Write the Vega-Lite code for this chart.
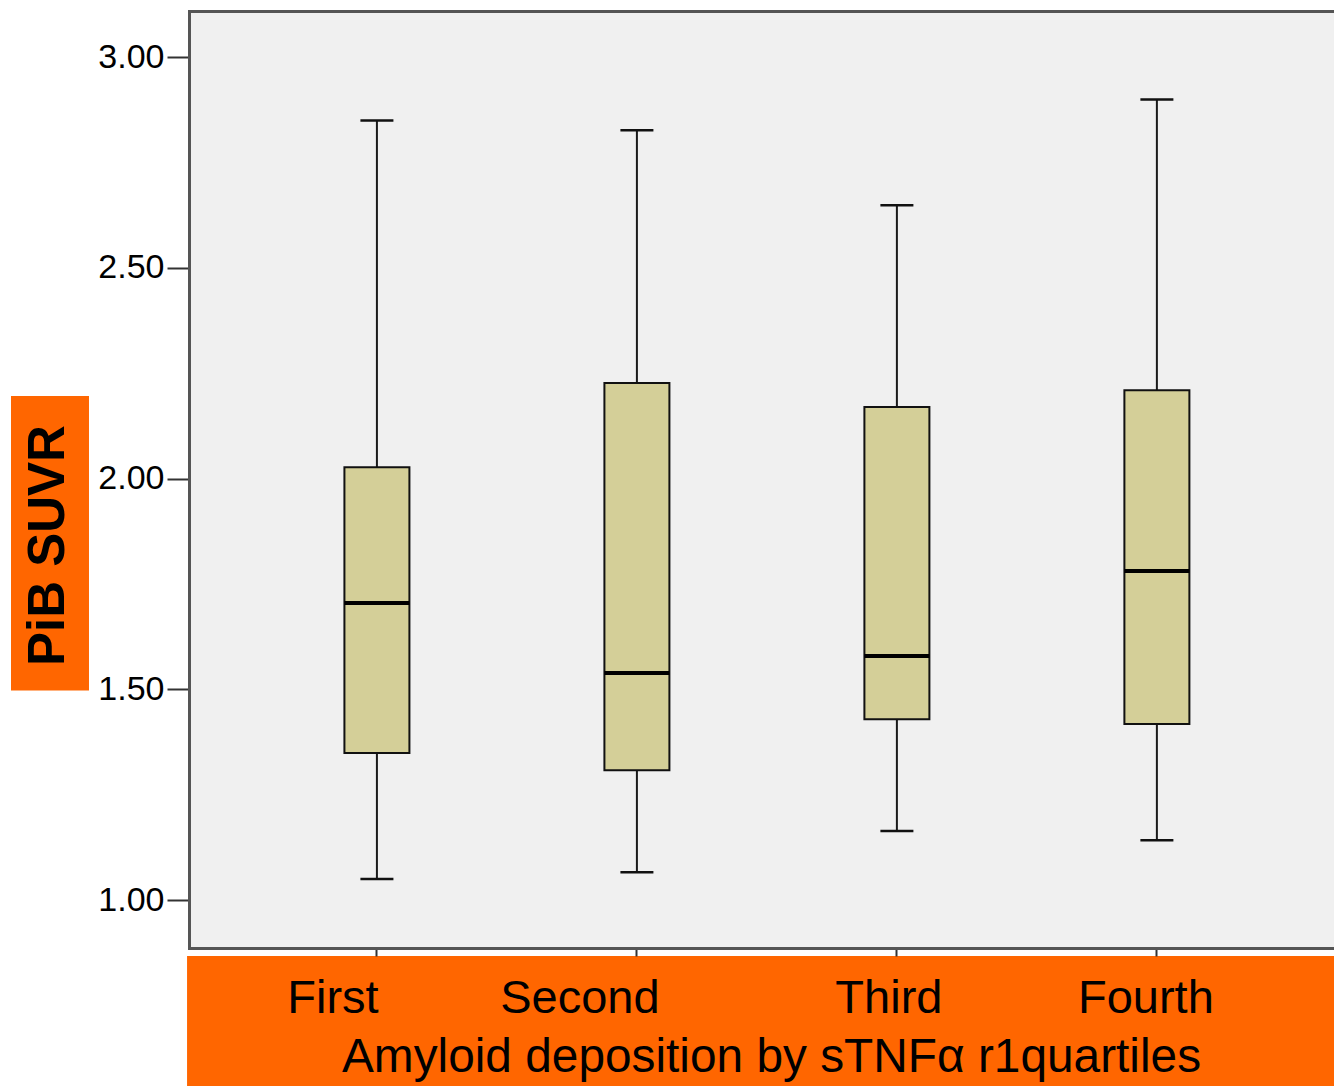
{
  "$schema": "https://vega.github.io/schema/vega-lite/v6.json",
  "width": 1145,
  "height": 937,
  "autosize": {"type": "none"},
  "padding": {"left": 189, "top": 11, "right": 0, "bottom": 138},
  "background": "white",
  "config": {
    "font": "Liberation Sans",
    "view": {"fill": "#f0f0f0", "stroke": null}
  },
  "data": {
    "values": [
      {"group": "First", "low": 1.050, "q1": 1.349, "median": 1.705, "q3": 2.027, "high": 2.850},
      {"group": "Second", "low": 1.066, "q1": 1.308, "median": 1.539, "q3": 2.227, "high": 2.827},
      {"group": "Third", "low": 1.164, "q1": 1.429, "median": 1.579, "q3": 2.170, "high": 2.649},
      {"group": "Fourth", "low": 1.142, "q1": 1.418, "median": 1.781, "q3": 2.210, "high": 2.900}
    ]
  },
  "layer": [
    {
      "layer": [
        {
          "mark": {"type": "rule", "color": "#1a1a1a", "strokeWidth": 2},
          "encoding": {
            "x": {
              "field": "group", "type": "nominal",
              "sort": ["First", "Second", "Third", "Fourth"],
              "scale": {"paddingInner": 0.5, "paddingOuter": 0.452, "align": 0.523},
              "axis": {
                "title": "Amyloid deposition by sTNFα r1quartiles",
                "titleFontSize": 47.8, "titleFontWeight": "normal", "titleColor": "black",
                "titleX": 582, "titleY": 123, "titleAlign": "center", "titleBaseline": "alphabetic",
                "labelFontSize": 47, "labelColor": "black", "labelAngle": 0,
                "labelBaseline": "alphabetic", "labelPadding": 56,
                "labelOffset": {"expr": "datum.value == 'First' ? -44 : datum.value == 'Second' ? -57 : datum.value == 'Third' ? -8 : -11"},
                "tickSize": 8, "tickColor": "#333333", "tickWidth": 2,
                "domain": true, "domainColor": "#555555", "domainWidth": 3, "domainCap": "square",
                "grid": false, "zindex": 1
              }
            },
            "y": {
              "field": "low", "type": "quantitative",
              "scale": {"domain": [0.8861, 3.1099], "nice": false, "zero": false},
              "axis": {
                "values": [1, 1.5, 2, 2.5, 3], "format": ".2f",
                "labelFontSize": 34, "labelColor": "black", "labelPadding": 3,
                "tickSize": 22, "tickColor": "#333333", "tickWidth": 2,
                "domain": true, "domainColor": "#555555", "domainWidth": 3, "domainCap": "square",
                "grid": false, "zindex": 1,
                "title": "PiB SUVR", "titleFontSize": 51, "titleFontWeight": "bold", "titleColor": "black",
                "titleAngle": -90, "titleX": -141, "titleY": 534,
                "titleAlign": "center", "titleBaseline": "middle"
              }
            },
            "y2": {"field": "high"}
          }
        },
        {
          "mark": {"type": "bar", "size": 65, "fill": "#D4CF98", "stroke": "#111111", "strokeWidth": 2, "opacity": 1},
          "encoding": {
            "x": {"field": "group", "type": "nominal", "sort": ["First", "Second", "Third", "Fourth"]},
            "y": {"field": "q1", "type": "quantitative"},
            "y2": {"field": "q3"}
          }
        },
        {
          "mark": {"type": "tick", "size": 65, "thickness": 4, "color": "black", "opacity": 1},
          "encoding": {
            "x": {"field": "group", "type": "nominal", "sort": ["First", "Second", "Third", "Fourth"]},
            "y": {"field": "median", "type": "quantitative"}
          }
        },
        {
          "mark": {"type": "tick", "size": 33, "thickness": 2.5, "color": "#111111", "opacity": 1},
          "encoding": {
            "x": {"field": "group", "type": "nominal", "sort": ["First", "Second", "Third", "Fourth"]},
            "y": {"field": "low", "type": "quantitative"}
          }
        },
        {
          "mark": {"type": "tick", "size": 33, "thickness": 2.5, "color": "#111111", "opacity": 1},
          "encoding": {
            "x": {"field": "group", "type": "nominal", "sort": ["First", "Second", "Third", "Fourth"]},
            "y": {"field": "high", "type": "quantitative"}
          }
        }
      ]
    },
    {
      "data": {"values": [{"box": "ytitle"}]},
      "mark": {"type": "rect", "color": "#FF6600"},
      "encoding": {
        "x": {
          "datum": -0.15546, "type": "quantitative",
          "scale": {"domain": [0, 1], "nice": false, "zero": false},
          "axis": {"orient": "top", "domain": true, "domainColor": "#555555", "domainWidth": 3, "domainCap": "square", "ticks": false, "labels": false, "grid": false, "title": null, "zindex": 1}
        },
        "x2": {"datum": -0.08734},
        "y": {"datum": 2.196, "type": "quantitative"},
        "y2": {"datum": 1.497}
      }
    },
    {
      "data": {"values": [{"box": "xtitle"}]},
      "mark": {"type": "rect", "color": "#FF6600"},
      "encoding": {
        "x": {"datum": -0.0017, "type": "quantitative", "scale": {"domain": [0, 1], "nice": false, "zero": false}, "axis": null},
        "x2": {"datum": 1.01},
        "y": {"datum": 0.867, "type": "quantitative"},
        "y2": {"datum": 0.5}
      }
    }
  ],
  "resolve": {"scale": {"x": "independent"}}
}
